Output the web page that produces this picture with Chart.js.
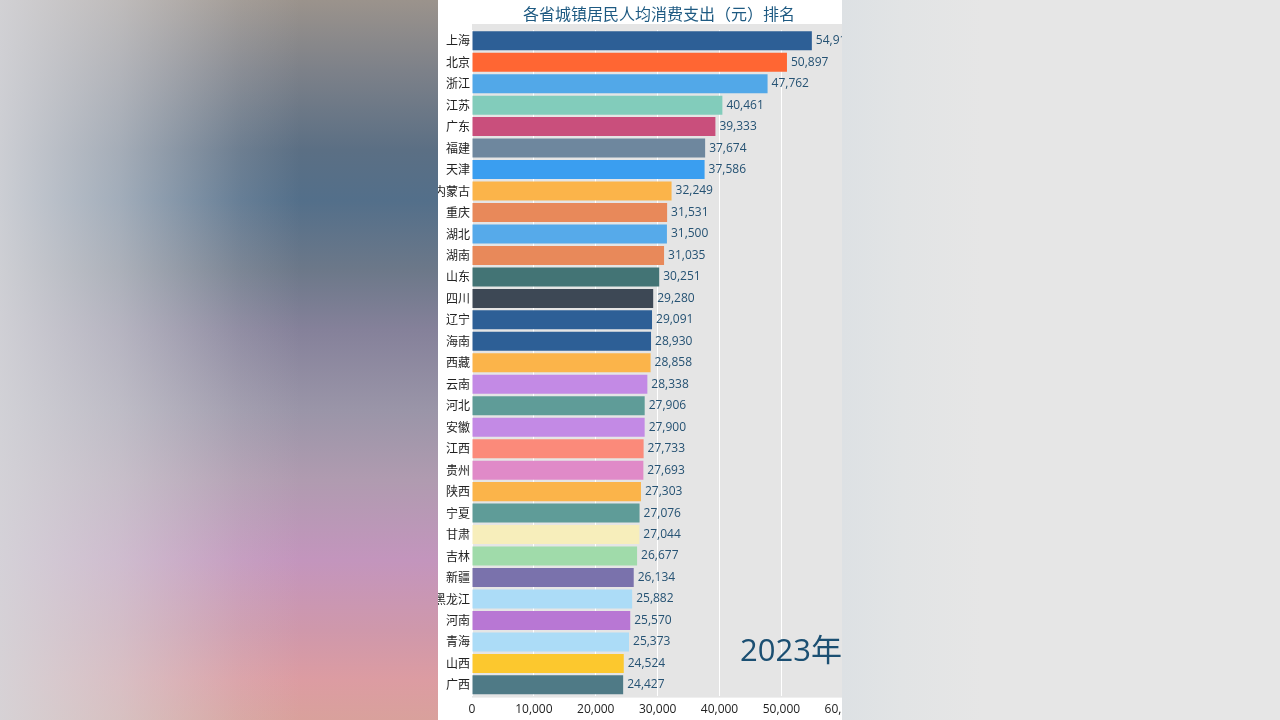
<!DOCTYPE html>
<html>
<head>
<meta charset="utf-8">
<script src="https://cdn.jsdelivr.net/npm/chart.js@4/dist/chart.umd.min.js"></script>
<style>
  body { margin: 0; width: 1280px; height: 720px; background: #e6e6e6; overflow: hidden; position: relative; }
  #bgLeft {
    position: absolute; left: 0; top: 0; width: 438px; height: 720px;
    background: linear-gradient(180deg, #9b938c 0px, #7d8189 70px, #5b6f84 150px, #536f8a 200px, #6c7889 270px, #85819a 330px, #9a95a8 410px, #b09bb0 480px, #c395bd 560px, #cf98ab 630px, #dc9ca2 680px, #d9a19c 720px);
  }
  #bgLeftFade {
    position: absolute; left: 0; top: 0; width: 438px; height: 720px;
    background: linear-gradient(90deg, rgba(214,214,218,0.92) 0px, rgba(214,214,218,0.6) 120px, rgba(214,214,218,0.15) 240px, rgba(214,214,218,0) 300px);
  }
  #bgRight {
    position: absolute; left: 842px; top: 0; width: 140px; height: 720px;
    background: linear-gradient(90deg, #dde1e4 0px, #e2e4e5 60px, #e6e6e6 140px);
  }
  #panel { position: absolute; left: 438px; top: 0; width: 404px; height: 720px; background: #fff; overflow: hidden; }
  #wrap { position: absolute; left: 0; top: 0; width: 431px; height: 720px; }
  #title {
    position: absolute; left: 0; top: 3px; width: 442px; text-align: center;
    font: 16px "Noto Sans CJK SC", sans-serif; color: #1e5a82; line-height: 20px;
  }
  #year {
    position: absolute; left: 302px; top: 629px;
    font: 31px "Open Sans", "Noto Sans CJK SC", sans-serif; color: #1b4f72; line-height: 40px; white-space: nowrap;
  }
</style>
</head>
<body>
<div id="bgLeft"></div>
<div id="bgLeftFade"></div>
<div id="bgRight"></div>
<div id="panel">
  <div id="wrap"><canvas id="barChart"></canvas></div>
  <div id="title">各省城镇居民人均消费支出（元）排名</div>
  <div id="year">2023年</div>
</div>
<script>
const provinces = ["上海", "北京", "浙江", "江苏", "广东", "福建", "天津", "内蒙古", "重庆", "湖北",
  "湖南", "山东", "四川", "辽宁", "海南", "西藏", "云南", "河北", "安徽", "江西",
  "贵州", "陕西", "宁夏", "甘肃", "吉林", "新疆", "黑龙江", "河南", "青海", "山西", "广西"];

const spending = [54919, 50897, 47762, 40461, 39333, 37674, 37586, 32249, 31531, 31500,
  31035, 30251, 29280, 29091, 28930, 28858, 28338, 27906, 27900, 27733,
  27693, 27303, 27076, 27044, 26677, 26134, 25882, 25570, 25373, 24524, 24427];

const barColors = ["#2d5f96", "#ff6633", "#52a8e8", "#82ccbb", "#c94f7c", "#6e879e", "#3a9ef0", "#fbb44a", "#e8895a", "#56aaea",
  "#e8895a", "#437475", "#3d4855", "#2d5f96", "#2d5f96", "#fbb44a", "#c38ae5", "#5f9c98", "#c38ae5", "#fb8a7a",
  "#e08ac8", "#fbb44a", "#5f9c98", "#f7eebb", "#a0dbaa", "#7a72ac", "#acdcf7", "#b877d4", "#acdcf7", "#fcc82e", "#4f7a86"];

const xMax = 60000;
const xStep = 10000;

// gray plot background (reaches a little above the first bar)
const plotBg = {
  id: "plotBg",
  beforeDraw(chart) {
    const { ctx, chartArea: a } = chart;
    ctx.save();
    ctx.fillStyle = "#e5e5e5";
    ctx.fillRect(a.left, a.top - 6, a.right - a.left, a.bottom - a.top + 8);
    ctx.restore();
  },
};

// value labels at the end of each bar
const valueLabels = {
  id: "valueLabels",
  afterDatasetsDraw(chart) {
    const ctx = chart.ctx;
    const meta = chart.getDatasetMeta(0);
    ctx.save();
    ctx.font = '12px "Open Sans", sans-serif';
    ctx.fillStyle = "#255273";
    ctx.textAlign = "left";
    ctx.textBaseline = "middle";
    meta.data.forEach((bar, i) => {
      ctx.fillText(spending[i].toLocaleString("en-US"), bar.x + 4, bar.y);
    });
    ctx.restore();
  },
};

const ctx = document.getElementById("barChart").getContext("2d");

const barChart = new Chart(ctx, {
  type: "bar",
  data: {
    labels: provinces,
    datasets: [
      {
        data: spending,
        backgroundColor: barColors,
        borderWidth: 0,
        barPercentage: 0.885,
        categoryPercentage: 1.0,
      },
    ],
  },
  options: {
    indexAxis: "y",
    responsive: true,
    maintainAspectRatio: false,
    animation: false,
    layout: {
      padding: { top: 30, bottom: -4, left: 0, right: 0 },
    },
    scales: {
      x: {
        min: 0,
        max: xMax,
        grid: { color: "#ffffff", lineWidth: 1, drawTicks: false },
        border: { display: false },
        ticks: {
          stepSize: xStep,
          padding: 7,
          color: "#222",
          font: { family: "Open Sans", size: 12 },
          callback: function (value) {
            return value.toLocaleString("en-US");
          },
        },
      },
      y: {
        grid: { display: false, drawTicks: false },
        border: { display: false },
        ticks: {
          padding: 2,
          color: "#222",
          font: { family: "Noto Sans CJK SC", size: 12 },
        },
        afterFit: function (scale) {
          scale.width = 34;
        },
      },
    },
    plugins: {
      legend: { display: false },
      tooltip: { enabled: false },
    },
  },
  plugins: [plotBg, valueLabels],
});
</script>
</body>
</html>
